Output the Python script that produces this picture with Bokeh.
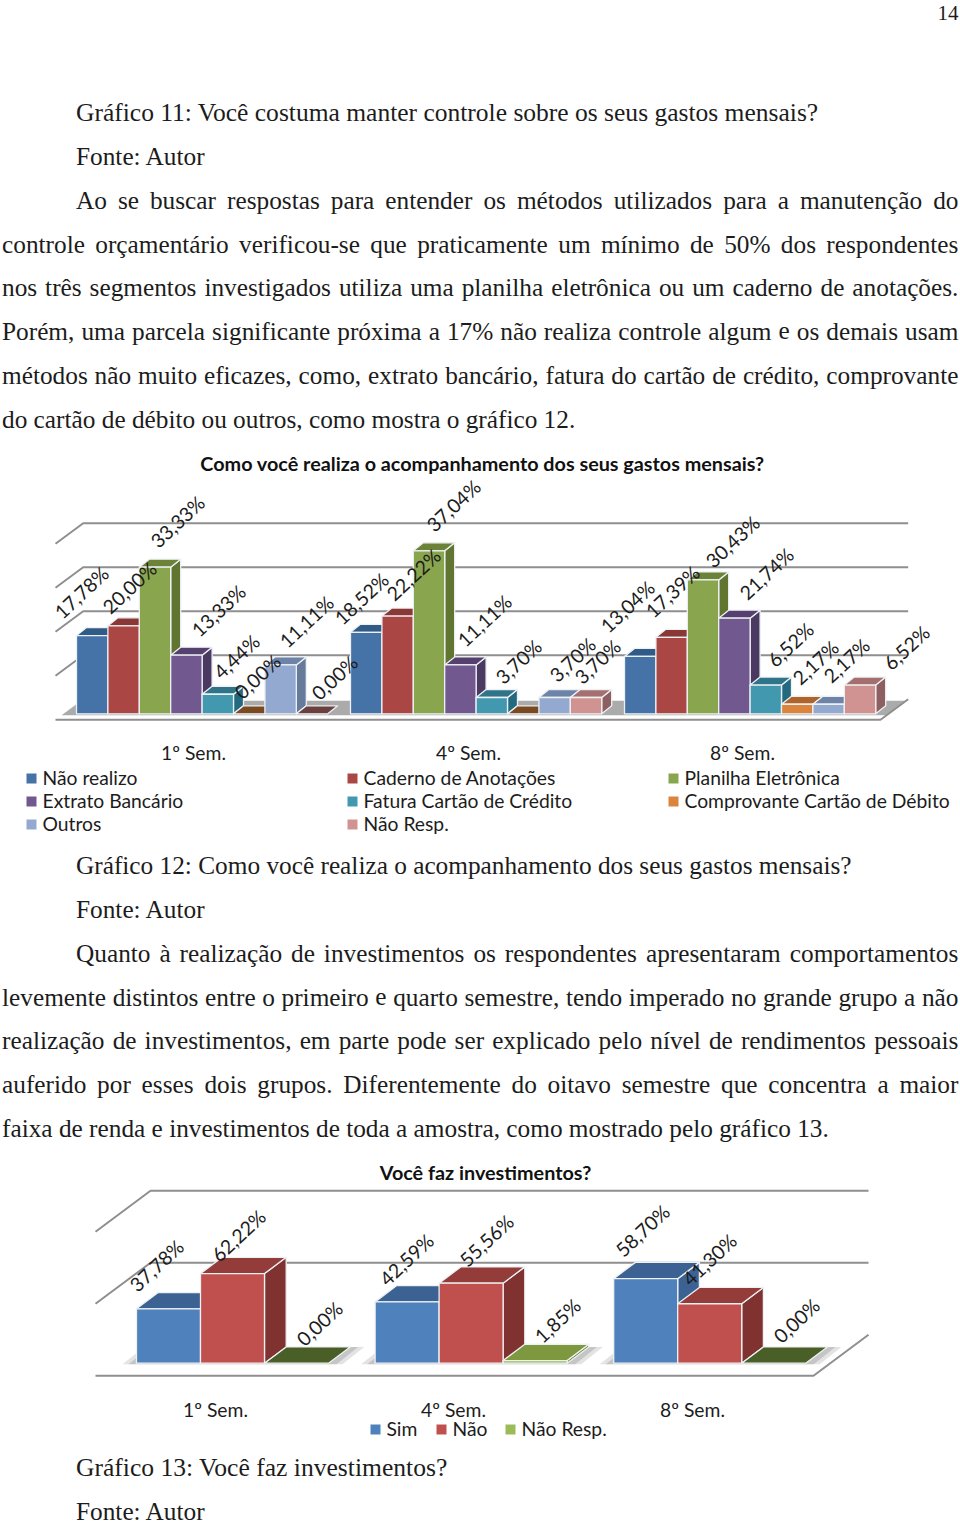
import math
from bokeh.plotting import figure
from bokeh.models import Range1d
from bokeh.core.properties import value
from bokeh.embed import file_html
from bokeh.resources import INLINE

# ---------- data: chart 12 ----------
GROUPS_A = ["1º Sem.", "4º Sem.", "8º Sem."]
SERIES_A = ["Não realizo", "Caderno de Anotações", "Planilha Eletrônica", "Extrato Bancário",
            "Fatura Cartão de Crédito", "Comprovante Cartão de Débito", "Outros", "Não Resp."]
SEM1_A = [17.78, 20.00, 33.33, 13.33, 4.44, 0.00, 11.11, 0.00]
SEM4_A = [18.52, 22.22, 37.04, 11.11, 3.70, 0.00, 3.70, 3.70]
SEM8_A = [13.04, 17.39, 30.43, 21.74, 6.52, 2.17, 2.17, 6.52]
TITLE_A = "Como você realiza o acompanhamento dos seus gastos mensais?"

# ---------- data: chart 13 ----------
GROUPS_B = ["1º Sem.", "4º Sem.", "8º Sem."]
SERIES_B = ["Sim", "Não", "Não Resp."]
SEM1_B = [37.78, 62.22, 0.00]
SEM4_B = [42.59, 55.56, 1.85]
SEM8_B = [58.70, 41.30, 0.00]
TITLE_B = "Você faz investimentos?"

# ---------- styling ----------
FRONT_A = ["#4572a7", "#aa4643", "#89a54e", "#71588f", "#4198af", "#db843d", "#93a9cf", "#d19392"]
TOP_A = ["#315b87", "#8a3836", "#6c8238", "#56406f", "#2f7488", "#b0642a", "#6d83a8", "#a56f70"]
SIDE_A = ["#315b87", "#8a3836", "#5f7530", "#4a3a62", "#236a80", "#a85f25", "#667a9c", "#8e5f60"]
ZERO_A = ["#315b87", "#8a3836", "#6c8238", "#56406f", "#2f7488", "#7a4a22", "#6d83a8", "#6b4040"]
FRONT_B = ["#4f81bd", "#c0504d", "#9bbb59"]
TOP_B = ["#3b6292", "#943c3a", "#7d983f"]
SIDE_B = ["#3b6292", "#7f322f", "#6c8238"]
ZERO_B = ["#3b6292", "#943c3a", "#4a5e28"]
GRID = "#8f8f8f"
INK = "#1c1c1c"
SANS = "Lato"
SERIF = "Liberation Serif"

# label nudges from the top of each bar, px (None: label absent)
NUDGE_A = [
    [(-10.7, -43.1), (5.9, -38.3), (22.5, -45.6), (32.1, -44.6), (18.7, -37.8), (8.3, -37.3), (25.9, -43.4), (22.5, -36.3)],
    [(-4.7, -33.8), (15.9, -41.5), (24.5, -45.3), (24.1, -44.4), (26.7, -36.0), None, (17.9, -38.0), (11.5, -36.0)],
    [(-12.7, -49.9), (0.9, -45.8), (29.5, -38.4), (32.1, -44.6), (24.7, -40.6), (18.3, -41.8), (17.9, -43.8), (46.5, -37.6)],
]
NUDGE_B = [
    [(-12, -43.3), (6, -38.1), (23, -39.7)],
    [(-0.6, -42.4), (15.4, -42.7), (22.4, -40.0)],
    [(-3.2, -48.2), (-0.2, -44.2), (22.8, -42.7)],
]

WIDTHS = dict(zip("abcdefghijklmnopqrstuvwxyz",
                  [444, 500, 444, 500, 444, 333, 500, 500, 278, 278, 500, 278, 778, 500, 500, 500, 500, 333, 389, 278, 500, 500, 722, 500, 500, 444]))
WIDTHS.update(zip("ABCDEFGHIJKLMNOPQRSTUVWXYZ",
                  [722, 667, 667, 722, 611, 556, 722, 722, 333, 389, 722, 611, 889, 722, 722, 556, 722, 667, 556, 611, 722, 722, 944, 722, 722, 611]))
WIDTHS.update({",": 250, ".": 250, ":": 278, "?": 444, "%": 833, "-": 333, " ": 250})
WIDTHS.update({c: 500 for c in "0123456789"})
ACC = {"á": "a", "à": "a", "ã": "a", "â": "a", "é": "e", "ê": "e", "í": "i", "ó": "o", "ô": "o", "õ": "o", "ú": "u", "ç": "c"}


def tw(s, fs):
    return sum(WIDTHS[ACC.get(c, c)] for c in s) / 1000 * fs


CAP11 = "Gráfico 11: Você costuma manter controle sobre os seus gastos mensais?"
CAP13 = "Gráfico 13: Você faz investimentos?"
FS = 741 / tw(CAP11, 1)
STRETCH = {CAP11: 1.008, CAP13: 1.011}

# (text, left, baseline, justified)
BODY = [
    (CAP11, 75.5, 112, False),
    ("Fonte: Autor", 75.5, 155, False),
    ("Ao se buscar respostas para entender os métodos utilizados para a manutenção do", 75.5, 199, True),
    ("controle orçamentário verificou-se que praticamente um mínimo de 50% dos respondentes", 1.5, 243, True),
    ("nos três segmentos investigados utiliza uma planilha eletrônica ou um caderno de anotações.", 1.5, 286, True),
    ("Porém, uma parcela significante próxima a 17% não realiza controle algum e os demais usam", 1.5, 330, True),
    ("métodos não muito eficazes, como, extrato bancário, fatura do cartão de crédito, comprovante", 1.5, 374, True),
    ("do cartão de débito ou outros, como mostra o gráfico 12.", 1.5, 418, False),
    ("Gráfico 12: Como você realiza o acompanhamento dos seus gastos mensais?", 75.5, 864, False),
    ("Fonte: Autor", 75.5, 908, False),
    ("Quanto à realização de investimentos os respondentes apresentaram comportamentos", 75.5, 952, True),
    ("levemente distintos entre o primeiro e quarto semestre, tendo imperado no grande grupo a não", 1.5, 996, True),
    ("realização de investimentos, em parte pode ser explicado pelo nível de rendimentos pessoais", 1.5, 1039, True),
    ("auferido por esses dois grupos. Diferentemente do oitavo semestre que concentra a maior", 1.5, 1083, True),
    ("faixa de renda e investimentos de toda a amostra, como mostrado pelo gráfico 13.", 1.5, 1127, False),
    (CAP13, 75.5, 1467, False),
    ("Fonte: Autor", 75.5, 1510, False),
]
RIGHT = 958

PW, PH = 960, 1523
p = figure(width=PW, height=PH, x_range=Range1d(0, PW), y_range=Range1d(PH, 0),
           x_axis_type=None, y_axis_type=None, output_backend="svg", toolbar_location=None,
           min_border=0, outline_line_color=None)


def page_text(xs, ys, ts, font, size, color=INK, align="left", baseline="alphabetic", style="normal"):
    p.text(xs, ys, text=ts, text_font=value(font), text_font_size=value(f"{size}px"),
           text_color=color, text_align=align, text_baseline=baseline, text_font_style=style)


# ---------- body text ----------
page_text([958], [12], ["14"], SERIF, 21, align="right")
for line, left, base, just in BODY:
    if not just:
        page_text([left], [base], [line], SERIF, round(FS * STRETCH.get(line, 1), 2))
        continue
    words = line.split(" ")
    total = sum(tw(w, FS) for w in words)
    gap = (RIGHT - left - total) / (len(words) - 1)
    xs, x = [], left
    for w in words:
        xs.append(x)
        x += tw(w, FS) + gap
    page_text(xs, [base] * len(words), words, SERIF, round(FS, 2))


def chart(name, x0, group_px, slot_px, base_px, px_per_unit, groups, ticks,
          back, front, x_left, x_right, dep, fronts, tops, sides, zeros, nudges, band_color, shadows, label_size):
    """3-D clustered columns, each chart on its own value scale."""
    p.extra_x_ranges[name + "x"] = Range1d((0 - x0) / group_px, (PW - x0) / group_px)
    p.extra_y_ranges[name + "y"] = Range1d((base_px - PH) / px_per_unit, base_px / px_per_unit)
    kw = dict(x_range_name=name + "x", y_range_name=name + "y")
    ux = lambda px: px / group_px
    uy = lambda px: px / px_per_unit
    xL, xR = (x_left - x0) / group_px, (x_right - x0) / group_px
    fx = ux(back[0])
    by, fy = uy(back[1]), -uy(front)
    # gray band on the floor, behind the columns
    if band_color:
        ylo, yhi = -uy(1.5), by - uy(1.5)
        at = lambda y: (y - fy) / (by - fy) * fx
        p.patch([xL + at(ylo), xR + at(ylo), xR + at(yhi), xL + at(yhi)], [ylo, ylo, yhi, yhi],
                fill_color=band_color, line_color=None, **kw)
    # walls: value lines
    gx, gy = [], []
    for t in ticks:
        gx.append([xL, xL + fx, xR + fx])
        gy.append([fy + t, by + t, by + t])
    gx.append([xL, xR, xR + fx])
    gy.append([fy, fy, by])
    p.multi_line(gx, gy, line_color=GRID, line_width=2, **kw)
    dx, dy = ux(dep[0]), uy(dep[1])
    sw = ux(slot_px)
    # soft shadows under each cluster
    for grow, alpha in shadows:
        for g, vals in enumerate(groups):
            a, b = g - ux(grow), g + len(vals) * sw + ux(grow)
            ylo = -uy(1.0)
            p.patch([a, b, b + dx, a + dx], [ylo, ylo, dy, dy], fill_color="#808080",
                    fill_alpha=alpha, line_color=None, **kw)
    # columns
    xs, ys, fc = [], [], []
    lx, ly, lt, ox, oy = [], [], [], [], []
    for g, vals in enumerate(groups):
        for s, v in enumerate(vals):
            a = g + s * sw
            b = a + sw
            if v > 0:
                xs.append([b, b + dx, b + dx, b]); ys.append([0, dy, v + dy, v]); fc.append(sides[s])
            xs.append([a, b, b + dx, a + dx]); ys.append([v, v, v + dy, v + dy]); fc.append(tops[s] if v > 0 else zeros[s])
            if v > 0:
                xs.append([a, b, b, a]); ys.append([0, 0, v, v]); fc.append(fronts[s])
            if nudges[g][s] is not None:
                lx.append(a + sw / 2); ly.append(v)
                lt.append(f"{v:.2f}%".replace(".", ","))
                ox.append(nudges[g][s][0]); oy.append(nudges[g][s][1])
    p.patches(xs, ys, fill_color=fc, line_color="#eef1f4", line_width=1.3, line_join="round", **kw)
    p.text(lx, ly, text=lt, x_offset=ox, y_offset=oy, angle=math.radians(43),
           text_font=value(SANS), text_font_size=value(f"{label_size}px"), text_color=INK,
           text_align="center", text_baseline="middle", **kw)


chart("a", 76, 274, 31.4, 713.3, 4.4, [SEM1_A, SEM4_A, SEM8_A], [10, 20, 30, 40],
      (27.7, 14.6), 6, 55, 880, (10, 8), FRONT_A, TOP_A, SIDE_A, ZERO_A, NUDGE_A, "#ababab", [], 19.5)
chart("b", 136, 238.6, 64, 1362.7, 1.44, [SEM1_B, SEM4_B, SEM8_B], [50, 100],
      (55, 28.4), 12.6, 95, 813, (21.7, 16.3), FRONT_B, TOP_B, SIDE_B, ZERO_B, NUDGE_B, None,
      [(14, 0.22), (8, 0.3)], 19.5)

# ---------- titles, category labels, legends ----------
page_text([482], [462.5], [TITLE_A], SANS, 19.8, color="#111111", align="center", baseline="middle", style="bold")
page_text([485], [1171.5], [TITLE_B], SANS, 19.8, color="#111111", align="center", baseline="middle", style="bold")
page_text([193, 468, 742], [752] * 3, GROUPS_A, SANS, 19.3, align="center", baseline="middle")
page_text([215, 453, 692], [1409] * 3, GROUPS_B, SANS, 19.3, align="center", baseline="middle")

LEG_COLS = [26, 347, 668]
LEG_ROWS = [778, 801, 824]
for i, name in enumerate(SERIES_A):
    col, row = LEG_COLS[i % 3], LEG_ROWS[i // 3]
    p.rect([col + 5], [row], width=10, height=10, fill_color=FRONT_A[i], line_color=None)
    page_text([col + 16], [row - 1], [name], SANS, 19.3, baseline="middle")
for name, x, c in zip(SERIES_B, [370, 436, 505], FRONT_B):
    p.rect([x + 5], [1429], width=10, height=10, fill_color=c, line_color=None)
    page_text([x + 16], [1428], [name], SANS, 19.3, baseline="middle")

open("out.html", "w").write(file_html(p, INLINE))
